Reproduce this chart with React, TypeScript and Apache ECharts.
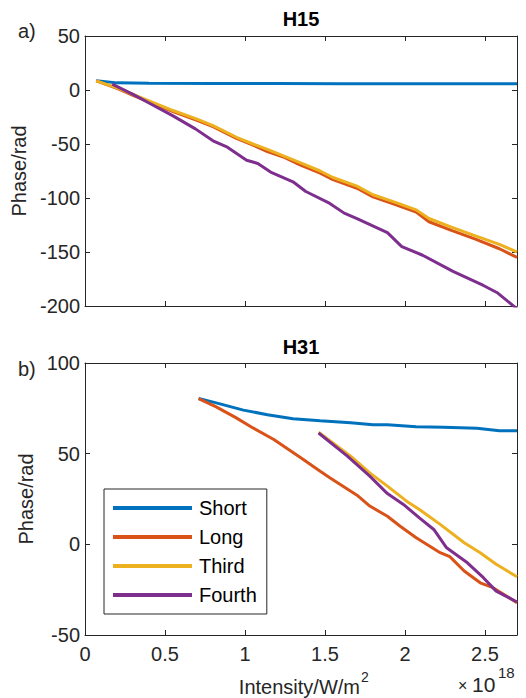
import React, { useEffect, useRef } from "react";
import * as echarts from "echarts";

const seriesNames = ["Short", "Long", "Third", "Fourth"];
const colors = ["#0072BD", "#D95319", "#EDB120", "#7E2F8E"];

// H15 (panel a)
const h15ShortX = [0.07, 0.2, 0.4, 0.8, 1.2, 1.6, 2.0, 2.4, 2.7];
const h15ShortY = [8.5, 6.6, 6.3, 6.1, 6.0, 5.9, 5.9, 5.8, 5.8];
const h15LongX = [0.07, 0.2, 0.3, 0.4, 0.55, 0.7, 0.8, 0.95, 1.05, 1.14, 1.24, 1.34, 1.47, 1.55, 1.7, 1.8, 1.94, 2.07, 2.15, 2.29, 2.44, 2.59, 2.7];
const h15LongY = [8.5, 1.5, -5, -11, -20, -28, -34, -45, -51, -57, -62, -69, -77, -83, -91, -99, -106, -113, -122, -130, -138, -147, -155];
const h15ThirdX = [0.07, 0.2, 0.3, 0.4, 0.55, 0.7, 0.8, 0.95, 1.05, 1.14, 1.24, 1.34, 1.47, 1.55, 1.7, 1.8, 1.94, 2.07, 2.15, 2.29, 2.44, 2.59, 2.7];
const h15ThirdY = [8.5, 2, -4, -10, -19, -27, -33, -44, -50, -55, -61, -67, -75, -81, -89, -97, -104, -111, -119, -127, -135, -143, -150];
const h15FourthX = [0.17, 0.3, 0.4, 0.55, 0.69, 0.8, 0.89, 1.01, 1.08, 1.16, 1.3, 1.38, 1.53, 1.62, 1.7, 1.89, 1.98, 2.11, 2.3, 2.49, 2.58, 2.67, 2.72];
const h15FourthY = [5.4, -4, -12, -24, -36, -47, -53, -65, -68, -76, -85, -94, -105, -114, -119, -132, -145, -153, -168, -181, -188, -199, -205];

// H31 (panel b)
const h31ShortX = [0.71, 0.82, 0.99, 1.14, 1.3, 1.47, 1.66, 1.8, 1.89, 2.07, 2.24, 2.45, 2.59, 2.7];
const h31ShortY = [80.4, 78, 74, 71.5, 69.3, 68.2, 67, 66, 65.9, 64.8, 64.6, 64, 62.7, 62.7];
const h31LongX = [0.71, 0.82, 0.94, 1.05, 1.18, 1.36, 1.47, 1.53, 1.7, 1.78, 1.89, 1.97, 2.07, 2.22, 2.28, 2.37, 2.47, 2.55, 2.7];
const h31LongY = [80.4, 75.8, 70, 64.2, 57.8, 47.1, 40.3, 36.7, 27.1, 21.1, 15.5, 10, 3.6, -4.6, -6.8, -14.7, -21.2, -23.9, -32.2];
const h31ThirdX = [1.46, 1.66, 1.78, 1.89, 2.01, 2.09, 2.22, 2.37, 2.47, 2.57, 2.7];
const h31ThirdY = [61.8, 48.6, 39.4, 32.1, 23.8, 19.2, 11, 0.9, -4.6, -11, -17.9];
const h31FourthX = [1.46, 1.64, 1.78, 1.89, 1.99, 2.09, 2.18, 2.26, 2.39, 2.49, 2.57, 2.7];
const h31FourthY = [61.4, 48.6, 37.6, 28, 22, 14.6, 8.2, -1.9, -10.2, -18.4, -25.8, -31.8];

const xTicks = { min: 0, max: 2.7, interval: 0.5 };
const yTicksA = { min: -200, max: 50, interval: 50 };
const yTicksB = { min: -50, max: 100, interval: 50 };

const FONT = "'Liberation Sans', Arial, Helvetica, sans-serif";
const AX = "#262626";

const zip = (xs: number[], ys: number[]) => xs.map((x, i) => [x, ys[i]]);

export default function App() {
  const ref = useRef<HTMLDivElement>(null);
  useEffect(() => {
    if (!ref.current) return;
    const chart = echarts.init(ref.current, undefined, { renderer: "svg" });

    const axisLine = { show: true, onZero: false, lineStyle: { color: AX, width: 1 } };
    const axisTick = { show: true, inside: true, length: 5, lineStyle: { color: AX, width: 1 } };
    const labelStyle = { fontSize: 20, fontFamily: FONT, color: AX };

    const mkX = (grid: number, pos: string, labels: boolean) => ({
      type: "value", gridIndex: grid, position: pos, ...xTicks,
      axisLine, axisTick, splitLine: { show: false },
      axisLabel: { show: labels, ...labelStyle, margin: 9, showMaxLabel: false },
    });
    const mkY = (grid: number, pos: string, labels: boolean, ticks: any, gap: number) => ({
      type: "value", gridIndex: grid, position: pos, ...ticks,
      axisLine, axisTick, splitLine: { show: false },
      axisLabel: { show: labels, ...labelStyle, margin: 5 },
      name: labels ? "Phase/rad" : "",
      nameLocation: "middle", nameGap: gap,
      nameTextStyle: { fontSize: 20, fontFamily: FONT, color: AX },
    });

    const top = [zip(h15ShortX, h15ShortY), zip(h15LongX, h15LongY), zip(h15ThirdX, h15ThirdY), zip(h15FourthX, h15FourthY)];
    const bot = [zip(h31ShortX, h31ShortY), zip(h31LongX, h31LongY), zip(h31ThirdX, h31ThirdY), zip(h31FourthX, h31FourthY)];

    const series: any[] = [];
    top.forEach((d, i) => series.push({
      type: "line", name: seriesNames[i], data: d, xAxisIndex: 0, yAxisIndex: 0,
      showSymbol: false, symbol: "none", lineStyle: { width: 3, color: colors[i] }, itemStyle: { color: colors[i] },
      clip: true,
    }));
    bot.forEach((d, i) => series.push({
      type: "line", name: seriesNames[i], data: d, xAxisIndex: 2, yAxisIndex: 2,
      showSymbol: false, symbol: "none", lineStyle: { width: 3, color: colors[i] }, itemStyle: { color: colors[i] },
      clip: true,
    }));

    const txt = (text: string, x: number, y: number, size: number, align = "left", bold = false) => ({
      type: "text", x, y,
      style: { text, fontSize: size, fontFamily: FONT, fill: bold ? "#000" : AX, fontWeight: bold ? "bold" : "normal", align, verticalAlign: "middle" },
    });

    chart.setOption({
      animation: false,
      backgroundColor: "#fff",
      grid: [
        { left: 85, top: 36, width: 432, height: 270 },
        { left: 85, top: 363, width: 432, height: 272 },
      ],
      xAxis: [mkX(0, "bottom", false), mkX(0, "top", false), mkX(1, "bottom", true), mkX(1, "top", false)],
      yAxis: [mkY(0, "left", true, yTicksA, 54), mkY(0, "right", false, yTicksA, 0), mkY(1, "left", true, yTicksB, 47), mkY(1, "right", false, yTicksB, 0)],
      legend: {
        data: seriesNames,
        orient: "vertical",
        left: 104, top: 489,
        padding: [9, 10, 9, 9],
        itemGap: 9,
        itemWidth: 79, itemHeight: 4,
        icon: "rect",
        borderColor: AX, borderWidth: 1,
        backgroundColor: "#fff",
        textStyle: { fontSize: 20, fontFamily: FONT, color: "#000", padding: [0, 0, 0, 2] },
        selectedMode: false,
      },
      graphic: [
        txt("a)", 18, 31, 20),
        txt("b)", 18, 369, 20),
        txt("H15", 301, 19, 20, "center", true),
        txt("H31", 301, 347, 20, "center", true),
        txt("Intensity/W/m", 360, 687, 20, "right"),
        txt("2", 361, 677, 14),
        txt("×", 458, 685, 16),
        txt("10", 472, 684, 21),
        txt("18", 498, 672, 15),
      ],
      series,
    });
    return () => chart.dispose();
  }, []);
  return <div ref={ref} style={{ position: "fixed", left: 0, top: 0, width: 526, height: 698 }} />;
}
